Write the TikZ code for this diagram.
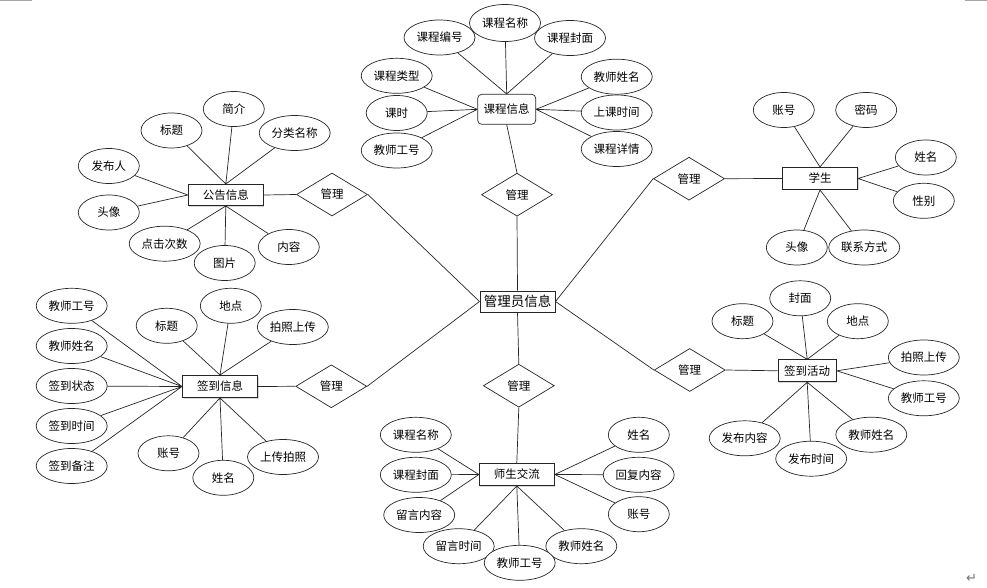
\documentclass[tikz,border=0pt]{standalone}
\usepackage{fontspec}
\newfontfamily\cjk{Noto Sans CJK SC}
\newfontfamily\symfont{DejaVu Sans}
\usetikzlibrary{shapes.geometric, shadows}

\begin{document}
\begin{tikzpicture}[
  x=1pt, y=-1pt,
  font=\cjk\fontsize{11.5}{13}\selectfont,
  line width=0.7pt,
  attr/.style={ellipse, draw=black!85, fill=white, inner sep=0pt,
               minimum width=61pt, minimum height=35pt},
  attrw/.style={attr, minimum width=71pt},
  ent/.style={rectangle, draw=black!85, fill=white, line width=1pt, inner sep=0pt,
              minimum width=75pt, minimum height=22pt,
              drop shadow={shadow xshift=1pt, shadow yshift=-1pt, fill=black!30}},
  rel/.style={diamond, draw=black!85, fill=white, inner sep=0pt,
              minimum width=71pt, minimum height=43pt},
  link/.style={draw=black!85}
]
\useasboundingbox (0,0) rectangle (987,588);

% hub
\node[ent, font=\cjk\fontsize{13.5}{15}\selectfont, minimum height=21pt] (admin) at (517.5,301.5) {管理员信息};

% course
\node[rectangle, rounded corners=4pt, draw=black!85, minimum width=58pt, minimum height=30pt] (course) at (506.7,109.3) {课程信息};
\node[attrw] (c1) at (439.5,37.5) {课程编号};
\node[attrw, minimum height=37pt] (c2) at (505,23) {课程名称};
\node[attrw] (c3) at (570,38) {课程封面};
\node[attrw] (c4) at (396.7,75.8) {课程类型};
\node[attr] (c5) at (396.7,113) {课时};
\node[attrw] (c6) at (396.7,150.5) {教师工号};
\node[attrw] (c7) at (616.7,76.7) {教师姓名};
\node[attrw] (c8) at (616.7,112.5) {上课时间};
\node[attrw] (c9) at (616.7,149) {课程详情};
\node[rel] (r1) at (517,194.7) {管理};

\draw[link] (c1) -- (course.north) (c2) -- (course.north) (c3) -- (course.north);
\draw[link] (c4) -- (course.west) (c5) -- (course.west) (c6) -- (course.west);
\draw[link] (c7) -- (course.east) (c8) -- (course.east) (c9) -- (course.east);
\draw[link] (course.south) -- (r1.north);
\draw[link] (r1.south) -- (admin.north);

% notice
\node[ent, minimum height=21pt] (notice) at (225.8,195) {公告信息};
\node[attr] (n1) at (233.8,109) {简介};
\node[attr] (n2) at (171.5,130.5) {标题};
\node[attrw] (n3) at (294.7,133) {分类名称};
\node[attr] (n4) at (108.8,166) {发布人};
\node[attr] (n5) at (108.8,212.5) {头像};
\node[attrw] (n6) at (164.7,243.7) {点击次数};
\node[attr] (n7) at (224.7,263) {图片};
\node[attr] (n8) at (288.8,247) {内容};
\node[rel] (r2) at (332,194.5) {管理};

\draw[link] (n1) -- (notice.north) (n2) -- (notice.north) (n3) -- (notice.north);
\draw[link] (n4) -- (notice.west) (n5) -- (notice.west);
\draw[link] (n6) -- (notice.south) (n7) -- (notice.south) (n8) -- (notice.south);
\draw[link] (notice.east) -- (r2.west);
\draw[link] (r2.east) -- (admin.west);

% student
\node[ent] (student) at (820,178.5) {学生};
\node[attr] (s1) at (783.8,110) {账号};
\node[attr] (s2) at (866.2,110) {密码};
\node[attr] (s3) at (925.8,157.5) {姓名};
\node[attr] (s4) at (923.8,200.8) {性别};
\node[attr] (s5) at (796.8,247.5) {头像};
\node[attrw] (s6) at (864.2,247.5) {联系方式};
\node[rel] (r3) at (689,178.7) {管理};

\draw[link] (s1) -- (student.north) (s2) -- (student.north);
\draw[link] (s3) -- (student.east) (s4) -- (student.east);
\draw[link] (s5) -- (student.south) (s6) -- (student.south);
\draw[link] (r3.east) -- (student.west);
\draw[link] (r3.west) -- (admin.east);

% sign-in record
\node[ent] (signin) at (220,386.5) {签到信息};
\node[attrw] (g1) at (71.7,305.8) {教师工号};
\node[attrw] (g2) at (71.7,346) {教师姓名};
\node[attrw] (g3) at (71.7,386) {签到状态};
\node[attrw] (g4) at (71.7,426) {签到时间};
\node[attrw] (g5) at (71.7,466) {签到备注};
\node[attr] (g6) at (166.7,325.8) {标题};
\node[attr] (g7) at (230.8,305.8) {地点};
\node[attrw] (g8) at (292.8,327) {拍照上传};
\node[attr] (g9) at (168.5,453.3) {账号};
\node[attr] (g10) at (223.3,477.8) {姓名};
\node[attrw] (g11) at (283,457) {上传拍照};
\node[rel] (r4) at (331.3,386.3) {管理};

\draw[link] (g1) -- (signin.west) (g2) -- (signin.west) (g3) -- (signin.west)
            (g4) -- (signin.west) (g5) -- (signin.west);
\draw[link] (g6) -- (signin.north) (g7) -- (signin.north) (g8) -- (signin.north);
\draw[link] (g9) -- (signin.south) (g10) -- (signin.south) (g11) -- (signin.south);
\draw[link] (signin.east) -- (r4.west);
\draw[link] (r4.east) -- (admin.west);

% sign-in activity
\node[ent, minimum width=58pt] (activity) at (807.2,370.8) {签到活动};
\node[attr] (a1) at (742.5,321.2) {标题};
\node[attr] (a2) at (800.2,298.3) {封面};
\node[attr] (a3) at (857.8,321.2) {地点};
\node[attrw] (a4) at (923.8,357.5) {拍照上传};
\node[attrw] (a5) at (923.8,398.3) {教师工号};
\node[attrw] (a6) at (871.3,434.7) {教师姓名};
\node[attrw] (a8) at (744.7,438.3) {发布内容};
\node[attrw] (a7) at (811.2,458.7) {发布时间};
\node[rel] (r5) at (689.7,370) {管理};

\draw[link] (a1) -- (activity.north) (a2) -- (activity.north) (a3) -- (activity.north);
\draw[link] (a4) -- (activity.east) (a5) -- (activity.east);
\draw[link] (a6) -- (activity.south) (a7) -- (activity.south) (a8) -- (activity.south);
\draw[link] (r5.east) -- (activity.west);
\draw[link] (r5.west) -- (admin.east);

% teacher-student messages
\node[ent] (talk) at (516.8,474.5) {师生交流};
\node[attrw] (t1) at (415.8,434.8) {课程名称};
\node[attrw] (t2) at (415.8,474.8) {课程封面};
\node[attrw] (t3) at (419.2,515) {留言内容};
\node[attrw] (t4) at (458.7,546.2) {留言时间};
\node[attrw] (t6) at (581.3,546.2) {教师姓名};
\node[attrw] (t5) at (519.7,562.8) {教师工号};
\node[attr] (t7) at (638.8,434.8) {姓名};
\node[attrw] (t8) at (638.7,474.8) {回复内容};
\node[attr] (t9) at (638.8,514.2) {账号};
\node[rel] (r6) at (518.8,385.7) {管理};

\draw[link] (t1) -- (talk.west) (t2) -- (talk.west) (t3) -- (talk.west);
\draw[link] (t4) -- (talk.south) (t5) -- (talk.south) (t6) -- (talk.south);
\draw[link] (t7) -- (talk.east) (t8) -- (talk.east) (t9) -- (talk.east);
\draw[link] (r6.south) -- (talk.north);
\draw[link] (r6.north) -- (admin.south);

% page marks
\draw[black!35, line width=1pt] (0,0.5) -- (32,0.5);
\draw[black!35, line width=1pt] (965,0.5) -- (987,0.5);
\node[font=\symfont\fontsize{13}{13}\selectfont, text=black!55, inner sep=0pt] (ret) at (971.5,578) {↵};
\end{tikzpicture}
\end{document}
